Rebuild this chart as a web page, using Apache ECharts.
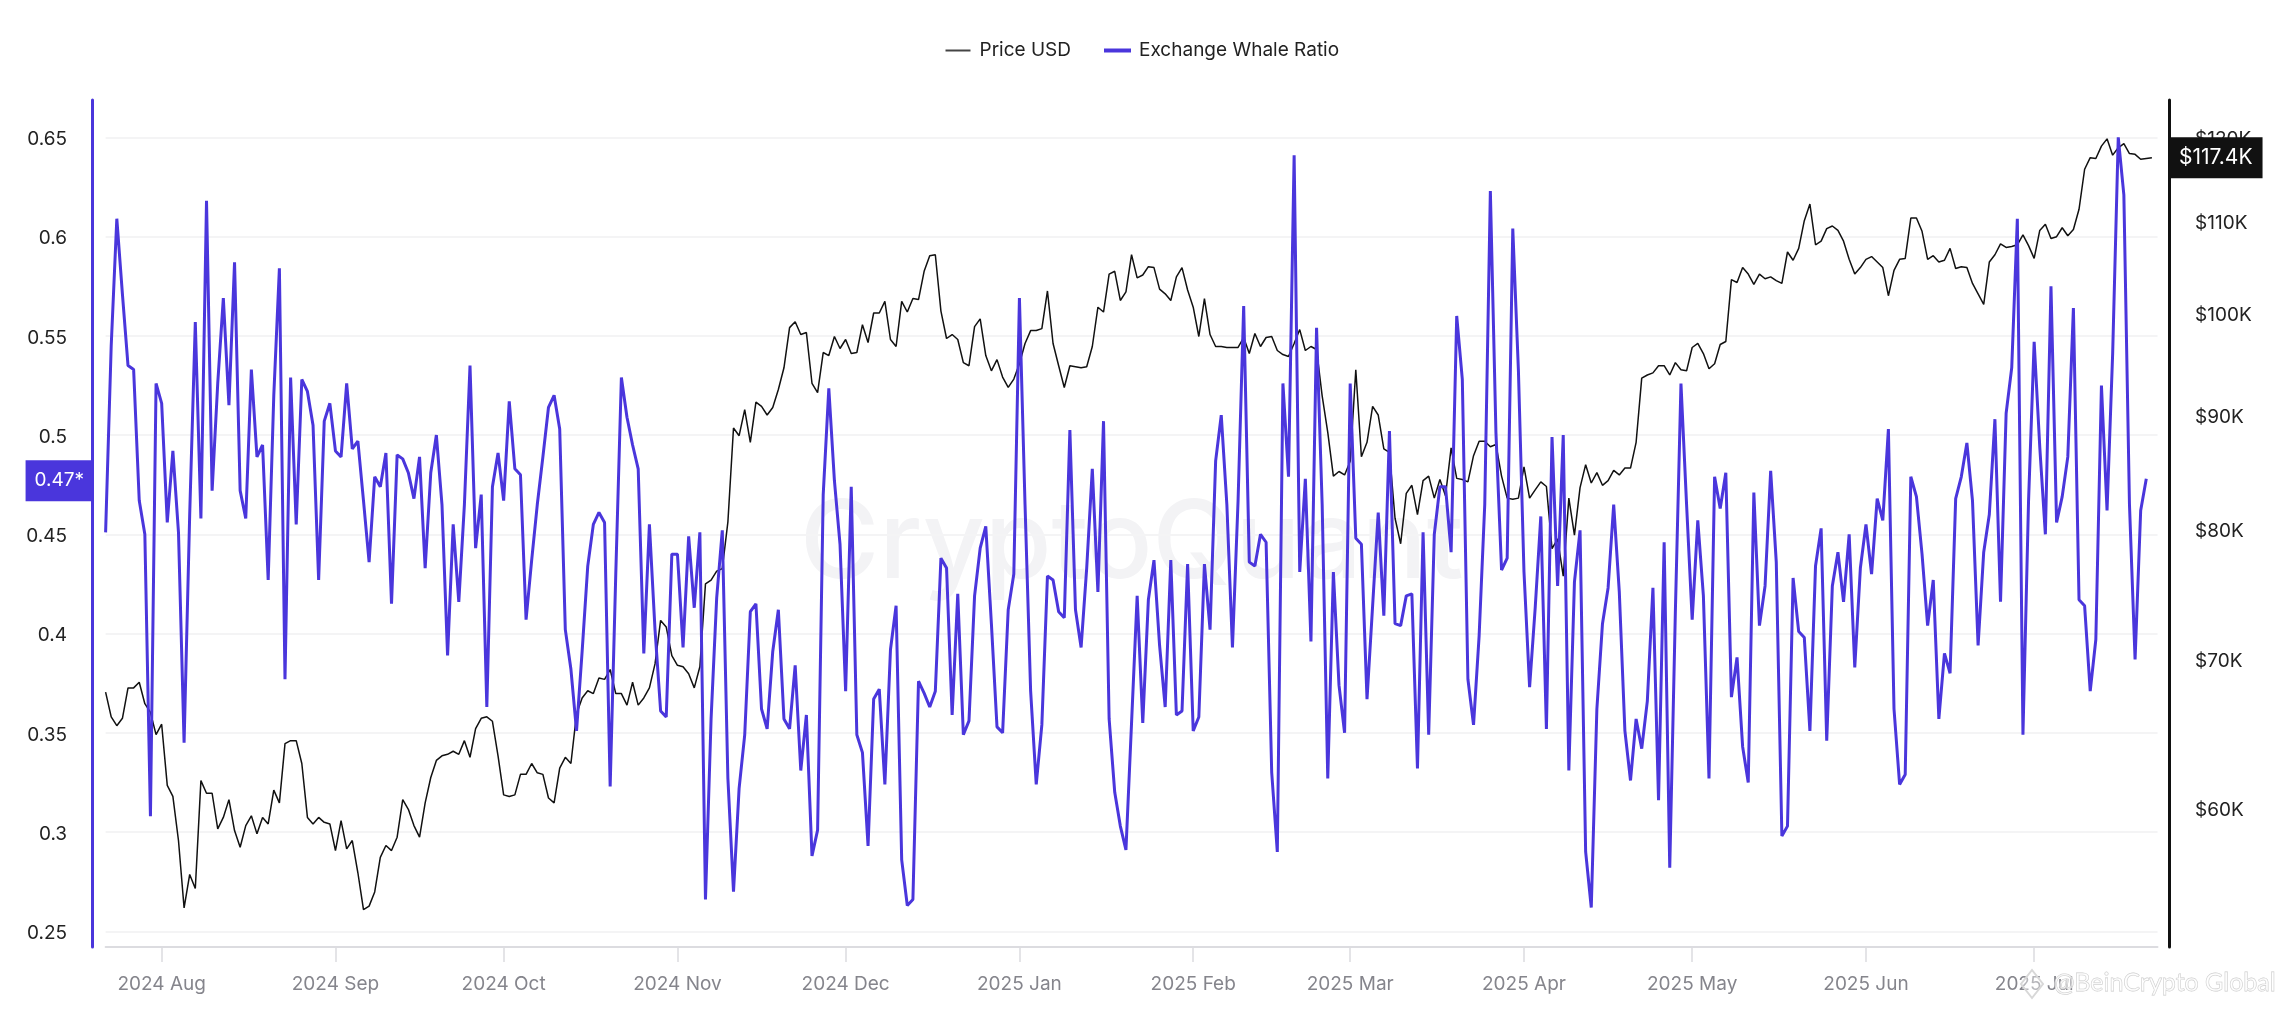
<!DOCTYPE html>
<html>
<head>
<meta charset="utf-8">
<style>html,body{margin:0;padding:0;background:#fff}#c{width:2292px;height:1010px}</style>
<script src="https://cdn.jsdelivr.net/npm/echarts@6/dist/echarts.min.js"></script>
</head>
<body>
<div id="c"></div>
<script>
const startDate = [2024, 6, 22];
const dayCount = 367;
const ratioTicks = [0.25, 0.3, 0.35, 0.4, 0.45, 0.5, 0.55, 0.6, 0.65];
const priceTicks = [60, 70, 80, 90, 100, 110, 120];
const monthNames = ['Jan','Feb','Mar','Apr','May','Jun','Jul','Aug','Sep','Oct','Nov','Dec'];
const ratioTag = 0.477;

const priceK = [
67.6,65.9,65.3,65.8,67.9,67.9,68.3,66.8,66.2,64.7,
65.4,61.4,60.7,58.0,54.1,56.0,55.2,61.7,60.9,60.9,
58.7,59.4,60.5,58.6,57.6,58.9,59.5,58.4,59.4,59.0,
61.1,60.3,64.1,64.3,64.3,62.8,59.4,59.0,59.4,59.1,
59.0,57.4,59.2,57.5,58.0,56.1,54.0,54.2,55.0,57.0,
57.7,57.4,58.2,60.5,59.9,58.9,58.2,60.3,61.9,63.0,
63.3,63.4,63.6,63.4,64.3,63.2,65.1,65.8,65.9,65.6,
63.3,60.8,60.7,60.8,62.1,62.1,62.8,62.2,62.1,60.6,
60.3,62.5,63.2,62.8,66.1,67.2,67.7,67.5,68.6,68.5,
69.2,67.5,67.5,66.7,68.3,66.7,67.2,67.9,69.6,72.8,
72.3,70.2,69.5,69.4,68.9,67.9,69.4,75.6,75.9,76.6,
76.8,80.6,88.8,88.1,90.5,87.5,91.2,90.8,90.0,90.7,
92.4,94.5,98.5,99.1,97.8,98.0,93.0,92.1,96.0,95.7,
97.6,96.4,97.3,95.9,96.0,98.8,97.0,100.0,100.0,101.2,
97.3,96.6,101.2,100.1,101.5,101.4,104.4,106.1,106.2,100.2,
97.4,97.8,97.3,95.0,94.7,98.6,99.4,95.7,94.2,95.3,
93.6,92.6,93.4,94.9,96.9,98.2,98.2,98.4,102.3,96.9,
94.7,92.6,94.7,94.6,94.5,94.6,96.6,100.6,100.1,104.1,
104.4,101.3,102.2,106.2,103.7,104.0,104.9,104.8,102.5,102.0,
101.3,103.8,104.8,102.4,100.6,97.6,101.5,97.8,96.6,96.6,
96.5,96.5,96.5,97.5,95.9,97.9,96.6,97.5,97.6,96.2,
95.8,95.6,96.9,98.3,96.2,96.6,96.3,91.8,88.4,84.5,
84.9,84.6,85.8,94.3,86.2,87.5,90.8,90.0,86.9,86.6,
80.9,78.8,83.0,83.7,81.2,84.1,84.5,82.6,84.2,82.8,
87.0,84.3,84.2,84.0,86.3,87.6,87.6,87.1,87.3,84.5,
82.6,82.5,82.6,85.3,82.6,83.3,84.0,83.6,78.4,79.2,
76.2,82.6,79.5,83.5,85.5,83.9,84.8,83.7,84.1,85.0,
84.6,85.2,85.2,87.5,93.5,93.8,94.0,94.7,94.7,93.8,
95.0,94.3,94.2,96.5,96.9,95.9,94.4,94.9,96.8,97.1,
103.5,103.2,104.8,104.1,103.0,104.1,103.6,103.8,103.4,103.1,
106.5,105.6,106.9,110.0,111.9,107.3,107.7,109.1,109.4,108.9,
107.7,105.7,104.1,104.8,105.7,106.0,105.4,104.8,101.8,104.5,
105.7,105.8,110.3,110.3,108.8,105.7,106.1,105.4,105.6,106.9,
104.7,104.9,104.8,103.1,102.0,100.9,105.4,106.2,107.4,107.0,
107.1,107.3,108.4,107.2,105.8,108.9,109.6,108.0,108.2,109.2,
108.3,109.0,111.3,116.0,117.4,117.3,118.8,119.7,117.7,118.6,
119.1,117.9,117.8,117.2,117.3,117.4
];

const whaleRatio = [
0.451,0.545,0.609,0.571,0.535,0.533,0.467,0.45,0.308,0.526,
0.516,0.456,0.492,0.451,0.345,0.46,0.557,0.458,0.618,0.472,
0.526,0.569,0.515,0.587,0.472,0.458,0.533,0.489,0.495,0.427,
0.52,0.584,0.377,0.529,0.455,0.528,0.522,0.505,0.427,0.507,
0.516,0.492,0.489,0.526,0.493,0.497,0.467,0.436,0.479,0.474,
0.491,0.415,0.49,0.488,0.481,0.468,0.489,0.433,0.481,0.5,
0.465,0.389,0.455,0.416,0.465,0.535,0.443,0.47,0.363,0.474,
0.491,0.467,0.517,0.483,0.48,0.407,0.437,0.465,0.489,0.514,
0.52,0.503,0.402,0.382,0.351,0.391,0.434,0.455,0.461,0.456,
0.323,0.43,0.529,0.509,0.495,0.483,0.39,0.455,0.402,0.361,
0.358,0.44,0.44,0.393,0.449,0.413,0.451,0.266,0.357,0.418,
0.452,0.327,0.27,0.322,0.349,0.411,0.415,0.362,0.352,0.391,
0.412,0.357,0.352,0.384,0.331,0.359,0.288,0.301,0.47,0.5235,
0.477,0.445,0.371,0.474,0.349,0.34,0.293,0.367,0.372,0.324,
0.392,0.414,0.286,0.263,0.266,0.376,0.37,0.363,0.371,0.438,
0.433,0.359,0.42,0.349,0.356,0.419,0.443,0.454,0.405,0.353,
0.35,0.412,0.43,0.569,0.465,0.371,0.324,0.354,0.429,0.427,
0.411,0.408,0.5025,0.412,0.393,0.433,0.483,0.421,0.507,0.357,
0.32,0.303,0.291,0.355,0.419,0.355,0.417,0.437,0.394,0.363,
0.437,0.359,0.361,0.435,0.351,0.358,0.435,0.402,0.487,0.51,
0.465,0.393,0.467,0.565,0.436,0.434,0.45,0.446,0.33,0.29,
0.526,0.479,0.641,0.431,0.478,0.396,0.554,0.465,0.327,0.431,
0.374,0.35,0.526,0.448,0.445,0.367,0.414,0.461,0.409,0.502,
0.405,0.404,0.419,0.42,0.332,0.451,0.349,0.45,0.474,0.474,
0.441,0.56,0.528,0.377,0.354,0.399,0.465,0.623,0.501,0.432,
0.438,0.604,0.533,0.431,0.373,0.413,0.459,0.352,0.499,0.424,
0.5,0.331,0.426,0.452,0.29,0.262,0.362,0.405,0.423,0.465,
0.421,0.351,0.326,0.357,0.342,0.366,0.423,0.316,0.446,0.282,
0.411,0.526,0.465,0.407,0.457,0.419,0.327,0.479,0.463,0.481,
0.368,0.388,0.343,0.325,0.471,0.404,0.424,0.482,0.436,0.298,
0.303,0.428,0.401,0.398,0.351,0.434,0.453,0.346,0.424,0.441,
0.416,0.45,0.383,0.433,0.455,0.43,0.468,0.457,0.503,0.362,
0.324,0.329,0.479,0.469,0.44,0.404,0.427,0.357,0.39,0.38,
0.468,0.479,0.496,0.467,0.394,0.441,0.46,0.508,0.416,0.511,
0.534,0.609,0.349,0.467,0.547,0.494,0.45,0.575,0.456,0.469,
0.489,0.564,0.417,0.414,0.371,0.397,0.525,0.462,0.541,0.65,
0.621,0.465,0.387,0.462,0.478
];

const dates = [];
for (let i = 0; i < dayCount; i++) {
  const d = new Date(startDate[0], startDate[1], startDate[2] + i);
  dates.push(d.getFullYear() + '-' + (d.getMonth() + 1) + '-' + d.getDate());
}
const isFirst = (idx, val) => val.split('-')[2] === '1';
const monthLabel = val => { const p = val.split('-'); return p[0] + ' ' + monthNames[+p[1] - 1]; };

const font = 'Inter';
const tickRich = pad => ({a: {color: '#222', fontFamily: font, fontSize: 19, padding: [pad, 0, 0, 0]}});
const chart = echarts.init(document.getElementById('c'), null, {renderer: 'canvas'});
chart.setOption({
  animation: false,
  backgroundColor: '#fff',
  legend: {
    left: 940.5, top: 36, itemWidth: 25, itemHeight: 2, itemGap: 33,
    textStyle: {fontFamily: font, fontSize: 19, color: '#222', padding: [0, 0, 0, 4]},
    data: [
      {name: 'Price USD', icon: 'rect', itemStyle: {color: '#444', borderWidth: 0}},
      {name: 'Exchange Whale Ratio', icon: 'rect', itemStyle: {color: '#4a36dc', borderColor: '#4a36dc', borderWidth: 2}}
    ]
  },
  grid: {left: 105.6, right: 134.5, top: 100, bottom: 63},
  xAxis: {
    type: 'category', data: dates, boundaryGap: false,
    axisLine: {lineStyle: {color: '#dcdce0', width: 2}},
    axisTick: {interval: isFirst, length: 15, lineStyle: {color: '#dcdce0', width: 1.5}},
    axisLabel: {interval: isFirst, formatter: monthLabel, color: '#85858c', fontFamily: font, fontSize: 19, margin: 28, hideOverlap: false},
    splitLine: {show: false}
  },
  yAxis: [
    {
      type: 'value', position: 'left', offset: 13.5, min: 0.2421, max: 0.6688,
      axisLine: {show: true, onZero: false, lineStyle: {color: '#4a36dc', width: 3}},
      axisTick: {show: false, customValues: ratioTicks},
      axisLabel: {customValues: ratioTicks, margin: 25, rich: tickRich(4), formatter: v => '{a|' + (+v.toFixed(2)) + '}'},
      splitLine: {show: true, lineStyle: {color: '#f4f4f5', width: 2}},
      axisPointer: {show: true, status: 'show', value: ratioTag, snap: false, triggerOn: 'none',
        lineStyle: {opacity: 0},
        label: {show: true, formatter: '0.47*', backgroundColor: '#4a36dc', borderRadius: 0, color: '#fff', fontFamily: font, fontSize: 19, padding: [11, 8, 11, 9], margin: 0}}
    },
    {
      type: 'log', position: 'right', offset: 11.5, min: 51.96, max: 124.6, logBase: 10,
      axisLine: {show: true, onZero: false, lineStyle: {color: '#111', width: 3}},
      axisTick: {show: false, customValues: priceTicks},
      axisLabel: {customValues: priceTicks, margin: 26, rich: tickRich(5), formatter: v => '{a|$' + Math.round(v) + 'K}'},
      splitLine: {show: false},
      axisPointer: {show: true, status: 'show', value: priceK[priceK.length - 1], snap: false, triggerOn: 'none',
        lineStyle: {opacity: 0},
        label: {show: true, formatter: '$117.4K', backgroundColor: '#111', borderRadius: 0, color: '#fff', fontFamily: font, fontSize: 21, padding: [10, 10, 10, 10], margin: 0}}
    }
  ],
  graphic: [
    {type: 'text', z: 0, left: 800, top: 492, style: {text: 'CryptoQuant', fontFamily: font, fontWeight: 500, fontSize: 108, fill: '#f3f3f5'}},
    {type: 'polygon', z: 100, shape: {points: [[2032, 970], [2043, 984], [2032, 998], [2021, 984]]}, style: {fill: 'rgba(255,255,255,0.4)', stroke: '#d8d8d8', lineWidth: 2}},
    {type: 'text', z: 100, left: 2053, top: 970, style: {text: '@BeinCrypto Global', fontFamily: 'Lato', fontSize: 25, fill: 'rgba(255,255,255,0.55)', stroke: '#c9c9c9', lineWidth: 0.8}}
  ],
  series: [
    {name: 'Price USD', type: 'line', yAxisIndex: 1, data: priceK, showSymbol: false, symbol: 'none', sampling: false,
      lineStyle: {color: '#111', width: 1.5}, itemStyle: {color: '#111'}, z: 2},
    {name: 'Exchange Whale Ratio', type: 'line', yAxisIndex: 0, data: whaleRatio, showSymbol: false, symbol: 'none',
      lineStyle: {color: '#4a36dc', width: 3}, itemStyle: {color: '#4a36dc'}, z: 3}
  ]
});
</script>
</body>
</html>
